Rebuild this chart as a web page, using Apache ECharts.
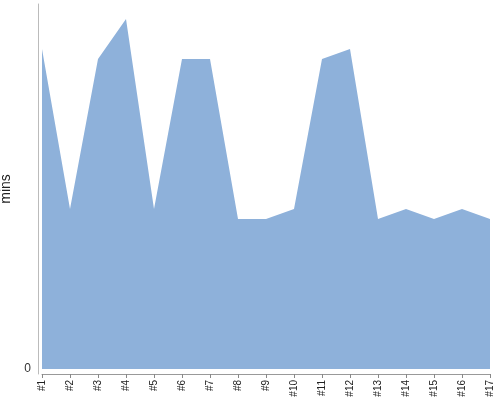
<!DOCTYPE html>
<html>
<head>
<meta charset="utf-8">
<script src="https://cdn.jsdelivr.net/npm/echarts@6/dist/echarts.min.js"></script>
<style>html,body{margin:0;padding:0;background:#fff}#c{width:500px;height:400px}</style>
</head>
<body>
<div id="c"></div>
<script>
const categories = ['#1','#2','#3','#4','#5','#6','#7','#8','#9','#10','#11','#12','#13','#14','#15','#16','#17'];
const minsValues = [32, 16, 31, 35, 16, 31, 31, 15, 15, 16, 31, 32, 15, 16, 15, 16, 15];
const yAxisName = 'mins';

const chart = echarts.init(document.getElementById('c'), null, {renderer: 'canvas'});
chart.setOption({
  animation: false,
  grid: {left: 42, right: 10, top: 4, bottom: 26, containLabel: false, outerBoundsMode: 'none'},
  xAxis: {
    type: 'category',
    position: 'bottom',
    data: categories,
    boundaryGap: false,
    z: 10,
    axisLine: {show: true, onZero: false, lineStyle: {color: '#999999', width: 1, opacity: 1}},
    axisTick: {show: true, length: 4, interval: 0, lineStyle: {color: '#888888', width: 1, opacity: 1}},
    axisLabel: {rotate: 90, fontSize: 10, color: '#222', margin: 6, interval: 0, fontFamily: 'Liberation Sans'}
  },
  yAxis: {
    type: 'value',
    position: 'left',
    min: -0.5,
    max: 36.5,
    interval: 0.5,
    offset: 4,
    name: yAxisName,
    nameLocation: 'middle',
    nameGap: 24,
    nameTextStyle: {fontSize: 14, color: '#222', fontFamily: 'Liberation Sans'},
    axisLine: {show: true, onZero: false, lineStyle: {color: '#bbbbbb'}},
    axisTick: {show: false},
    splitLine: {show: false},
    axisLabel: {fontSize: 12, color: '#333', margin: 7, fontFamily: 'Liberation Sans',
      formatter: v => (Math.abs(v) < 1e-9 ? '0' : '')}
  },
  series: [{
    type: 'line',
    data: minsValues,
    symbol: 'none',
    lineStyle: {width: 0},
    areaStyle: {color: '#8eb1da', opacity: 1, origin: 'auto'}
  }]
});
</script>
</body>
</html>
